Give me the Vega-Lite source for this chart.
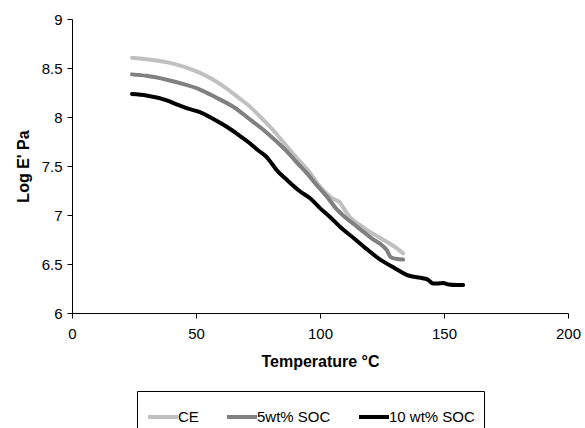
{
  "$schema": "https://vega.github.io/schema/vega-lite/v6.json",
  "width": 496,
  "height": 294,
  "autosize": {"type": "none"},
  "padding": {"left": 72, "top": 19, "right": 17, "bottom": 115},
  "background": "white",
  "config": {
    "view": {"stroke": null},
    "font": "Liberation Sans",
    "axis": {"domainColor": "black", "tickColor": "black", "labelColor": "black", "titleColor": "black", "grid": false, "labelFontSize": 15, "titleFontSize": 16, "titleFontWeight": "bold", "tickSize": 5, "domainWidth": 1, "tickWidth": 1, "labelFlush": false, "labelOverlap": false}
  },
  "data": {
    "values": [
      {"T": 24.2, "v": 8.605, "s": "CE"},
      {"T": 30, "v": 8.59, "s": "CE"},
      {"T": 38, "v": 8.56, "s": "CE"},
      {"T": 45, "v": 8.515, "s": "CE"},
      {"T": 51.6, "v": 8.45, "s": "CE"},
      {"T": 57, "v": 8.38, "s": "CE"},
      {"T": 62.4, "v": 8.29, "s": "CE"},
      {"T": 67, "v": 8.2, "s": "CE"},
      {"T": 71.8, "v": 8.105, "s": "CE"},
      {"T": 76, "v": 8.0, "s": "CE"},
      {"T": 81, "v": 7.87, "s": "CE"},
      {"T": 85, "v": 7.75, "s": "CE"},
      {"T": 89, "v": 7.63, "s": "CE"},
      {"T": 92.5, "v": 7.53, "s": "CE"},
      {"T": 96, "v": 7.43, "s": "CE"},
      {"T": 99, "v": 7.32, "s": "CE"},
      {"T": 102.7, "v": 7.22, "s": "CE"},
      {"T": 105, "v": 7.17, "s": "CE"},
      {"T": 108, "v": 7.13, "s": "CE"},
      {"T": 110, "v": 7.05, "s": "CE"},
      {"T": 112, "v": 6.98, "s": "CE"},
      {"T": 116, "v": 6.9, "s": "CE"},
      {"T": 120, "v": 6.83, "s": "CE"},
      {"T": 124, "v": 6.77, "s": "CE"},
      {"T": 128, "v": 6.71, "s": "CE"},
      {"T": 131, "v": 6.66, "s": "CE"},
      {"T": 133.5, "v": 6.61, "s": "CE"},
      {"T": 24.2, "v": 8.435, "s": "5wt% SOC"},
      {"T": 30, "v": 8.42, "s": "5wt% SOC"},
      {"T": 38.2, "v": 8.38, "s": "5wt% SOC"},
      {"T": 45, "v": 8.335, "s": "5wt% SOC"},
      {"T": 51.6, "v": 8.28, "s": "5wt% SOC"},
      {"T": 58, "v": 8.2, "s": "5wt% SOC"},
      {"T": 65, "v": 8.105, "s": "5wt% SOC"},
      {"T": 72, "v": 7.97, "s": "5wt% SOC"},
      {"T": 78.5, "v": 7.84, "s": "5wt% SOC"},
      {"T": 82.5, "v": 7.75, "s": "5wt% SOC"},
      {"T": 86.6, "v": 7.65, "s": "5wt% SOC"},
      {"T": 90.5, "v": 7.54, "s": "5wt% SOC"},
      {"T": 94.6, "v": 7.43, "s": "5wt% SOC"},
      {"T": 98.5, "v": 7.31, "s": "5wt% SOC"},
      {"T": 102.7, "v": 7.19, "s": "5wt% SOC"},
      {"T": 106.7, "v": 7.06, "s": "5wt% SOC"},
      {"T": 110, "v": 6.98, "s": "5wt% SOC"},
      {"T": 114, "v": 6.9, "s": "5wt% SOC"},
      {"T": 117.4, "v": 6.83, "s": "5wt% SOC"},
      {"T": 121, "v": 6.76, "s": "5wt% SOC"},
      {"T": 125.5, "v": 6.68, "s": "5wt% SOC"},
      {"T": 127, "v": 6.64, "s": "5wt% SOC"},
      {"T": 128.5, "v": 6.57, "s": "5wt% SOC"},
      {"T": 131, "v": 6.55, "s": "5wt% SOC"},
      {"T": 133.5, "v": 6.545, "s": "5wt% SOC"},
      {"T": 24.2, "v": 8.235, "s": "10 wt% SOC"},
      {"T": 30, "v": 8.22, "s": "10 wt% SOC"},
      {"T": 38.2, "v": 8.17, "s": "10 wt% SOC"},
      {"T": 43, "v": 8.12, "s": "10 wt% SOC"},
      {"T": 46.2, "v": 8.09, "s": "10 wt% SOC"},
      {"T": 51.6, "v": 8.05, "s": "10 wt% SOC"},
      {"T": 57, "v": 7.98, "s": "10 wt% SOC"},
      {"T": 62.4, "v": 7.9, "s": "10 wt% SOC"},
      {"T": 67, "v": 7.82, "s": "10 wt% SOC"},
      {"T": 71.8, "v": 7.73, "s": "10 wt% SOC"},
      {"T": 75, "v": 7.66, "s": "10 wt% SOC"},
      {"T": 78.5, "v": 7.59, "s": "10 wt% SOC"},
      {"T": 81, "v": 7.51, "s": "10 wt% SOC"},
      {"T": 82.5, "v": 7.46, "s": "10 wt% SOC"},
      {"T": 87, "v": 7.35, "s": "10 wt% SOC"},
      {"T": 92, "v": 7.24, "s": "10 wt% SOC"},
      {"T": 96, "v": 7.17, "s": "10 wt% SOC"},
      {"T": 100, "v": 7.07, "s": "10 wt% SOC"},
      {"T": 104, "v": 6.98, "s": "10 wt% SOC"},
      {"T": 108.5, "v": 6.87, "s": "10 wt% SOC"},
      {"T": 113.3, "v": 6.77, "s": "10 wt% SOC"},
      {"T": 118, "v": 6.67, "s": "10 wt% SOC"},
      {"T": 124, "v": 6.55, "s": "10 wt% SOC"},
      {"T": 130, "v": 6.46, "s": "10 wt% SOC"},
      {"T": 136, "v": 6.38, "s": "10 wt% SOC"},
      {"T": 141.5, "v": 6.355, "s": "10 wt% SOC"},
      {"T": 143.5, "v": 6.34, "s": "10 wt% SOC"},
      {"T": 145.6, "v": 6.3, "s": "10 wt% SOC"},
      {"T": 147.5, "v": 6.3, "s": "10 wt% SOC"},
      {"T": 149.6, "v": 6.305, "s": "10 wt% SOC"},
      {"T": 152, "v": 6.29, "s": "10 wt% SOC"},
      {"T": 155, "v": 6.285, "s": "10 wt% SOC"},
      {"T": 157.7, "v": 6.285, "s": "10 wt% SOC"}
    ]
  },
  "mark": {"type": "line", "strokeWidth": 4, "strokeCap": "round", "strokeJoin": "round", "interpolate": "monotone"},
  "encoding": {
    "x": {"field": "T", "type": "quantitative", "scale": {"domain": [0, 200], "nice": false}, "axis": {"title": "Temperature °C", "values": [0, 50, 100, 150, 200], "labelPadding": 8, "titlePadding": 12}},
    "y": {"field": "v", "type": "quantitative", "scale": {"domain": [6, 9], "nice": false, "zero": false}, "axis": {"title": "Log E' Pa", "values": [6, 6.5, 7, 7.5, 8, 8.5, 9], "format": "~g", "labelPadding": 5, "titlePadding": 10}},
    "color": {"field": "s", "type": "nominal", "scale": {"domain": ["CE", "5wt% SOC", "10 wt% SOC"], "range": ["#c0c0c0", "#808080", "#000000"]},
      "legend": {"title": null, "orient": "none", "legendX": 65, "legendY": 372, "direction": "horizontal", "symbolType": "stroke", "symbolStrokeWidth": 4, "symbolSize": 900, "labelFontSize": 15, "labelColor": "black", "labelOffset": -2, "columnPadding": 20, "padding": 9, "strokeColor": "black", "fillColor": "white"}
    },
    "order": {"field": "T", "type": "quantitative"}
  }
}
